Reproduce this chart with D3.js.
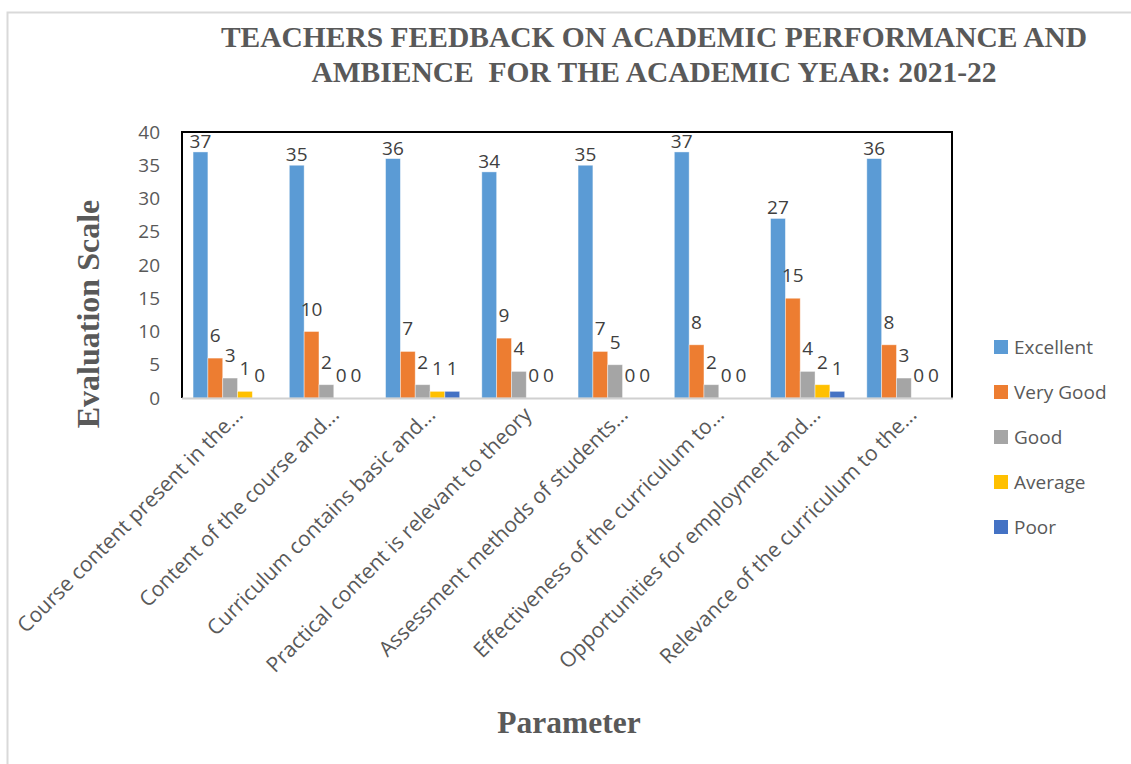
<!DOCTYPE html>
<html>
<head>
<meta charset="utf-8">
<script src="https://cdn.jsdelivr.net/npm/d3@7"></script>
<style>
  body { margin: 0; background: #fff; }
  text { font-family: "Open Sans", "Liberation Sans", sans-serif; }
  .serif { font-family: "Liberation Serif", "Times New Roman", serif; font-weight: bold; }
</style>
</head>
<body>
<div id="chart"></div>
<script>
var categories = [
  "Course content present in the...",
  "Content of the course and...",
  "Curriculum contains basic and...",
  "Practical content is relevant to theory",
  "Assessment methods of students...",
  "Effectiveness of the curriculum to...",
  "Opportunities for employment and...",
  "Relevance of the curriculum to the..."
];
var seriesNames = ["Excellent", "Very Good", "Good", "Average", "Poor"];
var excellent = [37, 35, 36, 34, 35, 37, 27, 36];
var veryGood  = [6, 10, 7, 9, 7, 8, 15, 8];
var good      = [3, 2, 2, 4, 5, 2, 4, 3];
var average   = [1, 0, 1, 0, 0, 0, 2, 0];
var poor      = [0, 0, 1, 0, 0, 0, 1, 0];
var yTicks = [0, 5, 10, 15, 20, 25, 30, 35, 40];

var series = [excellent, veryGood, good, average, poor];
var colors = ["#5B9BD5", "#ED7D31", "#A5A5A5", "#FFC000", "#4472C4"];

var W = 1131, H = 764,
    pLeft = 182, pRight = 952, pTop = 132, pBottom = 398;

var svg = d3.select("#chart").append("svg")
    .attr("width", W)
    .attr("height", H);

// outer frame (top and left edges visible)
svg.append("path")
    .attr("d", "M7.5," + H + "V12.5H" + W)
    .attr("fill", "none")
    .attr("stroke", "#d9d9d9")
    .attr("stroke-width", 2);

var x0 = d3.scaleBand()
    .domain(categories)
    .range([pLeft, pRight])
    .paddingInner(0.23)
    .paddingOuter(0.115);

var x1 = d3.scaleBand()
    .domain(seriesNames)
    .range([0, x0.bandwidth()]);

var y = d3.scaleLinear()
    .domain([0, 40])
    .range([pBottom, pTop]);

// title
svg.append("text")
    .attr("class", "serif")
    .attr("x", 654).attr("y", 47)
    .attr("text-anchor", "middle")
    .attr("font-size", 29.5)
    .attr("fill", "#595959")
    .text("TEACHERS FEEDBACK ON ACADEMIC PERFORMANCE AND");
svg.append("text")
    .attr("class", "serif")
    .attr("x", 654).attr("y", 82)
    .attr("text-anchor", "middle")
    .attr("font-size", 29.5)
    .attr("fill", "#595959")
    .attr("xml:space", "preserve")
    .text("AMBIENCE  FOR THE ACADEMIC YEAR: 2021-22");

// y axis ticks
var yAxis = svg.append("g")
    .attr("transform", "translate(" + pLeft + ",0)")
    .call(d3.axisLeft(y).tickValues(yTicks).tickSize(0).tickPadding(22));
yAxis.select(".domain").remove();
yAxis.selectAll("text")
    .attr("font-size", 19)
    .attr("fill", "#595959")
    .attr("font-family", "Open Sans, sans-serif");

// bars
var groups = svg.selectAll("g.group")
    .data(categories)
  .enter().append("g")
    .attr("class", "group")
    .attr("transform", function(d) { return "translate(" + x0(d) + ",0)"; });

seriesNames.forEach(function(name, si) {
  groups.append("rect")
      .attr("x", x1(name))
      .attr("y", function(d, i) { return y(series[si][i]); })
      .attr("width", x1.bandwidth())
      .attr("height", function(d, i) { return pBottom - y(series[si][i]); })
      .attr("fill", colors[si])
      .attr("stroke", "#fff")
      .attr("stroke-opacity", 0.5)
      .attr("stroke-width", 0.8);

  groups.append("text")
      .attr("x", x1(name) + x1.bandwidth() / 2)
      .attr("y", function(d, i) { return y(series[si][i]) - (si === 0 ? 4 : 16); })
      .attr("text-anchor", "middle")
      .attr("font-size", 19)
      .attr("fill", "#404040")
      .text(function(d, i) { return series[si][i]; });
});

// plot border
svg.append("path")
    .attr("d", "M" + pLeft + "," + pBottom + "V" + pTop + "H" + pRight + "V" + pBottom)
    .attr("fill", "none")
    .attr("stroke", "#000")
    .attr("stroke-width", 2);
svg.append("line")
    .attr("x1", pLeft).attr("x2", pRight + 1)
    .attr("y1", pBottom + 0.5).attr("y2", pBottom + 0.5)
    .attr("stroke", "#d0d0d0")
    .attr("stroke-width", 2);

// category labels
svg.selectAll("text.cat")
    .data(categories)
  .enter().append("text")
    .attr("class", "cat")
    .attr("text-anchor", "end")
    .attr("font-size", 21)
    .attr("fill", "#595959")
    .attr("transform", function(d) {
      return "translate(" + (x0(d) + x0.bandwidth() / 2 + 14) + "," + (pBottom + 18) + ")rotate(-45)";
    })
    .text(function(d) { return d; });

// axis titles
svg.append("text")
    .attr("class", "serif")
    .attr("transform", "translate(99,314)rotate(-90)")
    .attr("text-anchor", "middle")
    .attr("font-size", 32)
    .attr("fill", "#595959")
    .text("Evaluation Scale");
svg.append("text")
    .attr("class", "serif")
    .attr("x", 569).attr("y", 733)
    .attr("text-anchor", "middle")
    .attr("font-size", 31.5)
    .attr("fill", "#595959")
    .text("Parameter");

// legend
var legend = svg.selectAll("g.legend")
    .data(seriesNames)
  .enter().append("g")
    .attr("class", "legend")
    .attr("transform", function(d, i) { return "translate(994," + (347 + i * 45) + ")"; });
legend.append("rect")
    .attr("x", 0).attr("y", -7)
    .attr("width", 14).attr("height", 14)
    .attr("fill", function(d, i) { return colors[i]; });
legend.append("text")
    .attr("x", 20).attr("y", 6.5)
    .attr("font-size", 19)
    .attr("fill", "#595959")
    .text(function(d) { return d; });
</script>
</body>
</html>
